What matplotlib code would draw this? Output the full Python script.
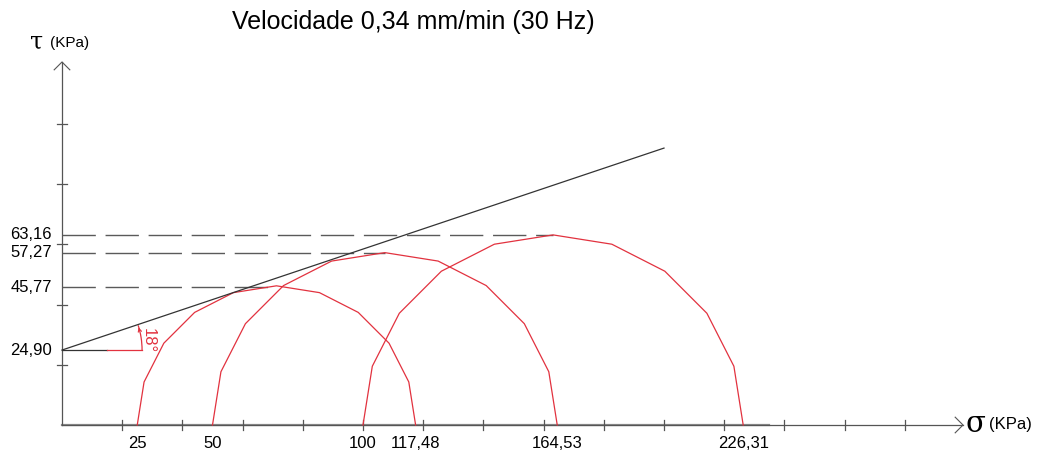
import numpy as np
import matplotlib.pyplot as plt
from matplotlib.patches import Arc

plt.rcParams['font.family'] = ['Liberation Sans', 'DejaVu Sans']

# Ensaio de cisalhamento - circulos de Mohr
sigma3 = [25, 50, 100]                 # KPa
sigma1 = [117.48, 164.53, 226.31]      # KPa
tau_max = [45.77, 57.27, 63.16]        # KPa
coesao = 24.90                         # KPa
phi = 18                               # graus
env_sigma = [0, 200]
env_tau = [24.90, 92.0]

x_labels = ['25', '50', '100', '117,48', '164,53', '226,31']
x_label_vals = [25, 50, 100, 117.48, 164.53, 226.31]
y_labels = ['24,90', '45,77', '57,27', '63,16']
y_label_vals = [24.90, 45.77, 57.27, 63.16]

# escala da figura: 3.01 px por KPa, origem em (62, 425) px
W, H = 1037, 455
k = 3.01
x0, y0 = 62, 425

fig = plt.figure(figsize=(W / 100, H / 100), dpi=100)
ax = fig.add_axes([0, 0, 1, 1])
ax.set_xlim(-x0 / k, (W - x0) / k)
ax.set_ylim(-(H - y0) / k, y0 / k)
ax.axis('off')

axis_col = '#555555'
red = '#e2323f'

# eixos
x_end = (963 - x0) / k
y_end = (y0 - 62) / k
ax.plot([0, 235], [0, 0], color='#8a8a8a', lw=1.6, zorder=1)
ax.plot([0, x_end], [0, 0], color=axis_col, lw=0.9, zorder=1)
ax.plot([0, 0], [0, y_end], color=axis_col, lw=0.9, zorder=1)
a = 2.6
ax.plot([x_end - a, x_end, x_end - a], [a, 0, -a], color=axis_col, lw=0.8)
ax.plot([-a, 0, a], [y_end - a, y_end, y_end - a], color=axis_col, lw=0.8)

# marcas dos eixos (a cada 20 KPa)
t = 1.7
for xv in np.arange(20, 300, 20):
    ax.plot([xv, xv], [-t, t], color=axis_col, lw=0.9)
for yv in np.arange(20, 120, 20):
    ax.plot([-t, t], [yv, yv], color=axis_col, lw=0.9)

# linhas tracejadas ate o topo de cada circulo
for s3, s1, tm in zip(sigma3, sigma1, tau_max):
    ax.plot([0, (s1 + s3) / 2], [tm, tm], color='#5a5a5a', lw=1.0,
            dashes=(24, 7))

# circulos de Mohr (desenhados com segmentos de 18 graus)
ang = np.radians(np.arange(0, 181, 18))
for s3, s1 in zip(sigma3, sigma1):
    c = (s1 + s3) / 2
    r = (s1 - s3) / 2
    ax.plot(c + r * np.cos(ang), r * np.sin(ang), color=red, lw=0.9, zorder=3)

# envoltoria de ruptura
ax.plot(env_sigma, env_tau, color='#333333', lw=0.9, zorder=4)

# angulo de atrito
ax.plot([0, 15], [coesao, coesao], color='#333333', lw=0.9)
ax.plot([15, 26.6], [coesao, coesao], color=red, lw=0.9)
ax.add_patch(Arc((0, coesao), 2 * 26.6, 2 * 26.6, theta1=0, theta2=phi,
                 color=red, lw=0.9))
tip = np.radians(phi + 0.5)
ax.annotate('', xy=(26.6 * np.cos(tip), coesao + 26.6 * np.sin(tip)),
            xytext=(26.6 * np.cos(np.radians(12)), coesao + 26.6 * np.sin(np.radians(12))),
            arrowprops=dict(arrowstyle='->', color=red, lw=0.8, mutation_scale=6))
ax.text(28.8, 28.0, f'{phi}°', color=red, fontsize=12, rotation=-90,
        ha='center', va='center')

# rotulos
for v, lab in zip(x_label_vals, x_labels):
    ax.text(v, -(443 - y0) / k, lab, fontsize=12, ha='center', va='center')
for v, lab in zip(y_label_vals, y_labels):
    ax.text(-(x0 - 52) / k, v, lab, fontsize=12, ha='right', va='center')

fig.text(232 / W, 1 - 22 / H, 'Velocidade 0,34 mm/min (30 Hz)', fontsize=18,
         ha='left', va='center')
fig.text(37 / W, 1 - 42 / H, 'τ', fontsize=17, ha='center', va='center',
         family='DejaVu Serif')
fig.text(50 / W, 1 - 43 / H, '(KPa)', fontsize=11, ha='left', va='center')
fig.text(975 / W, 1 - 424 / H, 'σ', fontsize=21, ha='center', va='center',
         family='DejaVu Serif')
fig.text(989 / W, 1 - 425 / H, '(KPa)', fontsize=12, ha='left', va='center')

fig.savefig('out.png', dpi=100)
